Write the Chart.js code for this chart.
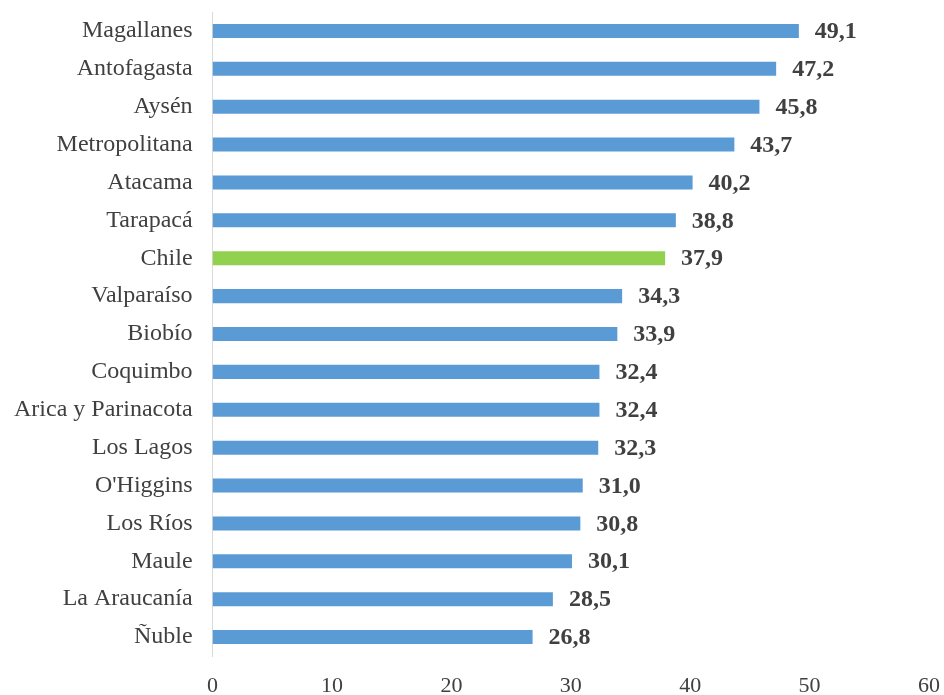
<!DOCTYPE html>
<html>
<head>
<meta charset="utf-8">
<script src="https://cdn.jsdelivr.net/npm/chart.js@4.4.0/dist/chart.umd.min.js"></script>
<style>
  html, body { margin: 0; padding: 0; background: #fff; }
</style>
</head>
<body>
<canvas id="bar-chart" width="944" height="695"></canvas>
<script>
// regiones, ordered as in the chart (top to bottom)
var regions = ['Magallanes', 'Antofagasta', 'Aysén', 'Metropolitana', 'Atacama', 'Tarapacá', 'Chile',
  'Valparaíso', 'Biobío', 'Coquimbo', 'Arica y Parinacota', 'Los Lagos', "O'Higgins", 'Los Ríos',
  'Maule', 'La Araucanía', 'Ñuble'];
var values = [49.1, 47.2, 45.8, 43.7, 40.2, 38.8, 37.9, 34.3, 33.9, 32.4, 32.4, 32.3, 31.0, 30.8, 30.1, 28.5, 26.8];
var xTicks = [0, 10, 20, 30, 40, 50, 60];

var blue = '#5B9BD5';
var green = '#92D050';
var textColor = '#404040';
var serif = '"Liberation Serif", "Times New Roman", serif';

var barColors = regions.map(function(r) { return r === 'Chile' ? green : blue; });

// draws the value at the end of every bar, comma decimal
var valueLabels = {
  id: 'valueLabels',
  afterDatasetsDraw: function(chart) {
    var ctx = chart.ctx;
    var meta = chart.getDatasetMeta(0);
    ctx.save();
    ctx.font = 'bold 24px ' + serif;
    ctx.fillStyle = textColor;
    ctx.textAlign = 'left';
    ctx.textBaseline = 'middle';
    meta.data.forEach(function(bar, i) {
      var txt = values[i].toFixed(1).replace('.', ',');
      ctx.fillText(txt, bar.x + 16, bar.y + 1);
    });
    ctx.restore();
  }
};

new Chart(document.getElementById('bar-chart'), {
  type: 'bar',
  data: {
    labels: regions,
    datasets: [{
      data: values,
      backgroundColor: barColors,
      borderWidth: 0,
      categoryPercentage: 1,
      barPercentage: 0.37
    }]
  },
  options: {
    indexAxis: 'y',
    responsive: false,
    animation: false,
    layout: {
      padding: { left: -6, right: 15, top: 12, bottom: -21 }
    },
    plugins: {
      legend: { display: false },
      tooltip: { enabled: false }
    },
    scales: {
      x: {
        min: 0,
        max: 60,
        afterBuildTicks: function(scale) {
          scale.ticks = xTicks.map(function(v) { return { value: v }; });
        },
        afterFit: function(scale) {
          scale.paddingLeft = 0;
          scale.paddingRight = 0;
        },
        grid: { display: false, drawTicks: false },
        border: { display: false },
        ticks: {
          padding: 19,
          color: textColor,
          font: { family: serif, size: 22, lineHeight: 1 }
        }
      },
      y: {
        afterFit: function(scale) {
          scale.paddingTop = 0;
          scale.paddingBottom = 0;
        },
        grid: { display: false, drawTicks: false },
        border: { display: true, color: '#D9D9D9', width: 1 },
        ticks: {
          padding: 20,
          color: textColor,
          autoSkip: false,
          font: { family: serif, size: 24 }
        }
      }
    }
  },
  plugins: [valueLabels]
});
</script>
</body>
</html>
